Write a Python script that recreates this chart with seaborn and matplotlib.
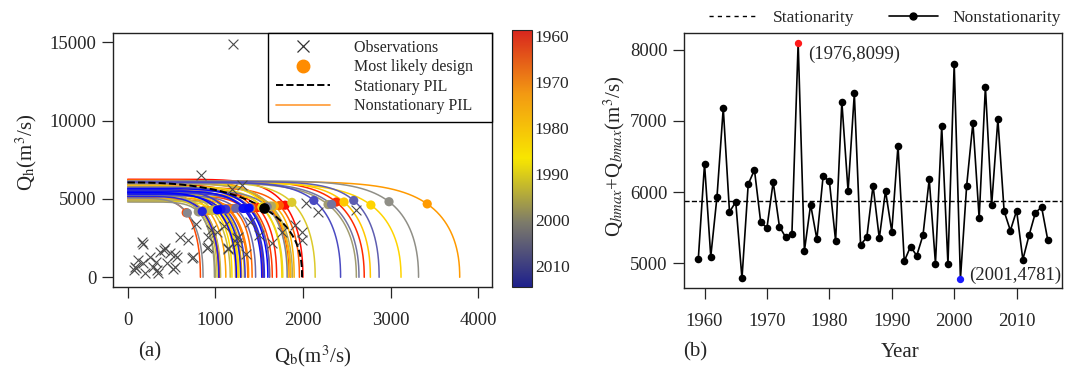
import numpy as np
import pandas as pd
import matplotlib.pyplot as plt
import matplotlib.cm as cm
from matplotlib.colors import LinearSegmentedColormap, Normalize
from matplotlib.lines import Line2D
import seaborn as sns

sns.set_style("ticks")
plt.rcParams["font.family"] = ["Liberation Serif", "DejaVu Serif"]
plt.rcParams["mathtext.fontset"] = "stix"

# ---- data ----
years = list(range(1959, 2016))

# panel (b): Qhmax + Qbmax of the most likely design, per year
total = [5056, 6397, 5093, 5937, 7180, 5721, 5862, 4788, 6111, 6312,
         5577, 5496, 6143, 5515, 5366, 5412, 8099, 5173, 5824, 5337,
         6223, 6157, 5314, 7269, 6012, 7386, 5257, 5366, 6092, 5351,
         6017, 5445, 6654, 5028, 5234, 5107, 5394, 6181, 4995, 6927,
         4986, 7803, 4781, 6092, 6977, 5633, 7480, 5816, 7025, 5731,
         5459, 5740, 5051, 5394, 5707, 5792, 5323]
stationary_total = 5876
max_year, max_label = 1975, "(1976,8099)"
min_year, min_label = 2001, "(2001,4781)"

# panel (a): most likely design point per year
design_qb = [856, 1797, 863, 1487, 2380, 1321, 1432, 668, 1611, 1732,
             1197, 1146, 1623, 1155, 1046, 1082, 3419, 923, 1404, 1027,
             1673, 1627, 1014, 2469, 1532, 2776, 977, 1046, 1592, 1041,
             1537, 1105, 1874, 828, 964, 867, 1064, 1641, 815, 2287,
             806, 2983, 681, 1592, 2327, 1233, 2580, 1396, 2125, 1331,
             1119, 1340, 851, 1064, 1317, 1382, 1023]
design_qh = [4200, 4600, 4230, 4450, 4800, 4400, 4430, 4120, 4500, 4580,
             4380, 4350, 4520, 4360, 4320, 4330, 4680, 4250, 4420, 4310,
             4550, 4530, 4300, 4800, 4480, 4610, 4280, 4320, 4500, 4310,
             4480, 4340, 4780, 4200, 4270, 4240, 4330, 4540, 4180, 4640,
             4180, 4820, 4100, 4500, 4650, 4400, 4900, 4420, 4900, 4400,
             4340, 4400, 4200, 4330, 4390, 4410, 4300]

# panel (a): asymptotes of each nonstationary PIL (Qb at Qh=0, Qh at Qb=0)
pil_qb = [1040, 2000, 1050, 1700, 2700, 1540, 1650, 830, 1840, 1960,
          1420, 1370, 1860, 1380, 1260, 1300, 3790, 1120, 1620, 1240,
          1900, 1860, 1230, 2770, 1760, 3120, 1190, 1270, 1830, 1260,
          1770, 1330, 2140, 1020, 1170, 1060, 1290, 1880, 1000, 2610,
          990, 3320, 860, 1820, 2640, 1460, 2870, 1620, 2430, 1550,
          1340, 1560, 1040, 1290, 1530, 1600, 1240]
pil_qh = [5400, 6250, 5000, 5600, 6150, 5200, 5900, 5100, 6000, 5700,
          4900, 5500, 6200, 5300, 5800, 5050, 6100, 5600, 5400, 5900,
          5150, 6100, 5350, 6100, 5650, 6000, 4850, 5500, 6100, 5250,
          5800, 5450, 6050, 5000, 5700, 5300, 4900, 5950, 5550, 6000,
          4800, 6150, 5050, 5500, 6050, 5200, 6100, 5750, 6050, 5350,
          5600, 5450, 5150, 5300, 5500, 5650, 5400]

# stationary PIL
stat_qb, stat_qh = 1990, 6050
stat_design = (1559, 4393)

# observed pairs
obs_qb = [1200, 840, 160, 175, 100, 70, 85, 120, 180, 250, 290, 330, 350, 370,
          425, 410, 480, 540, 540, 565, 520, 690, 730, 750, 900, 920, 920, 1020,
          1150, 1140, 1260, 1250, 1190, 1300, 1245, 1760, 1910, 1985, 1985, 2040,
          2175, 2610, 1400, 1500, 1100, 950, 600, 200, 320, 450, 780, 1350, 1650]
obs_qh = [14900, 6500, 2240, 2100, 570, 480, 660, 1100, 890, 1310, 680, 470, 300, 1630,
          1850, 1740, 1530, 1420, 680, 1270, 560, 2380, 1210, 1280, 1850, 1950, 2590, 2900,
          1850, 1780, 2590, 2200, 5660, 5880, 2480, 2900, 3330, 2900, 2380, 4710,
          4180, 4290, 3500, 2700, 3300, 3000, 2600, 300, 1000, 900, 3400, 1500, 2200]

line_cmap = LinearSegmentedColormap.from_list(
    "pil", ["#ff0000", "#ff8c00", "#ffe600", "#8c8c8c", "#0000ff"])
bar_cmap = LinearSegmentedColormap.from_list(
    "bar", ["#d8261e", "#f39a12", "#f8e600", "#7c7a6a", "#1e208c"])
norm = Normalize(1958.7, 2014.6)


def isoline(a, h, xd, yd, p=2.2):
    # (x/a)^q + (y/h)^p = 1, q chosen so the curve runs through the design point
    q = np.log(1 - (yd / h) ** p) / np.log(xd / a)
    t = np.linspace(0, np.pi / 2, 300)
    return a * np.sin(t) ** (2 / q), h * np.cos(t) ** (2 / p)


rows = []
for yr, a, h, xd, yd in zip(years, pil_qb, pil_qh, design_qb, design_qh):
    x, y = isoline(a, h, xd, yd)
    rows.append(pd.DataFrame({"year": yr, "qb": x, "qh": y}))
curves = pd.concat(rows, ignore_index=True)
sx, sy = isoline(stat_qb, stat_qh, stat_design[0], stat_design[1], p=2.5)

fig = plt.figure(figsize=(10.69, 3.73), dpi=100)
ax1 = fig.add_axes([0.1057, 0.2314, 0.3545, 0.6809])
cax = fig.add_axes([0.479, 0.2306, 0.0187, 0.689])
ax2 = fig.add_axes([0.6399, 0.2271, 0.3536, 0.6836])

# ---- panel (a) ----
sns.lineplot(data=curves, x="qb", y="qh", hue="year", units="year", estimator=None,
             sort=False, palette=line_cmap, hue_norm=norm, lw=1.1, legend=False, ax=ax1)
ax1.plot(sx, sy, color="black", ls="--", lw=1.4, zorder=3)
sns.scatterplot(x=obs_qb, y=obs_qh, marker="x", color="#4a4a4a", s=50, linewidth=0.8,
                legend=False, ax=ax1, zorder=4)
sns.scatterplot(x=design_qb, y=design_qh, hue=years, palette=line_cmap, hue_norm=norm,
                s=44, linewidth=0, legend=False, ax=ax1, zorder=5)
ax1.scatter([stat_design[0]], [stat_design[1]], s=44, color="black", zorder=6)

ax1.set_xlim(-168, 4158)
ax1.set_ylim(-600, 15600)
ax1.set_xticks([0, 1000, 2000, 3000, 4000])
ax1.set_yticks([0, 5000, 10000, 15000])
ax1.set_xlabel("")
ax1.set_ylabel("")

handles = [
    Line2D([], [], ls="none", marker="x", color="#333333", ms=8, mew=0.9),
    Line2D([], [], ls="none", marker="o", color="#ff8c00", ms=9),
    Line2D([], [], ls="--", color="black", lw=1.4),
    Line2D([], [], ls="-", color="#ff9933", lw=1.2),
]
labels = ["Observations   ", "Most likely design   ", "Stationary PIL   ",
          "Nonstationary PIL   "]
leg = ax1.legend(handles, labels, loc="upper right", bbox_to_anchor=(1, 1),
                 borderaxespad=0, frameon=True, fancybox=False, framealpha=1,
                 edgecolor="black", fontsize=11.5, handlelength=3.4,
                 handletextpad=1.5, labelspacing=0.22, borderpad=0.45)
leg.get_frame().set_linewidth(1.0)

# colorbar
cb = fig.colorbar(cm.ScalarMappable(norm=norm, cmap=bar_cmap), cax=cax)
cax.invert_yaxis()
cb.set_ticks([1960, 1970, 1980, 1990, 2000, 2010])
cax.tick_params(direction="in", length=4, width=0.8, left=True, right=True,
                labelsize=12.5, pad=2, color="#444444")
cb.outline.set_linewidth(0.8)

# ---- panel (b) ----
sns.lineplot(x=years, y=total, color="black", lw=1.2, ax=ax2)
ax2.axhline(stationary_total, color="black", ls="--", lw=1.0)
i_max = years.index(max_year)
i_min = years.index(min_year)
keep = [i for i in range(len(years)) if i not in (i_max, i_min)]
sns.scatterplot(x=[years[i] for i in keep], y=[total[i] for i in keep],
                color="black", s=30, linewidth=0, ax=ax2, zorder=3)
ax2.scatter([years[i_max]], [total[i_max]], color="#ff1a1a", s=18, zorder=4)
ax2.scatter([years[i_min]], [total[i_min]], color="#1a1aff", s=18, zorder=4)
ax2.text(1976.6, 7930, max_label, fontsize=13.5, va="center", ha="left")
ax2.text(2002.4, 4835, min_label, fontsize=13.5, va="center", ha="left")

ax2.set_xlim(1956.72, 2017.28)
ax2.set_ylim(4648, 8232)
ax2.set_xticks([1960, 1970, 1980, 1990, 2000, 2010])
ax2.set_yticks([5000, 6000, 7000, 8000])
ax2.set_xlabel("")
ax2.set_ylabel("")

leg2 = ax2.legend(
    [Line2D([], [], ls=(0, (3, 3)), color="black", lw=1.0),
     Line2D([], [], ls="-", color="black", lw=1.2, marker="o", ms=5)],
    ["Stationarity", "Nonstationarity"], loc="center", bbox_to_anchor=(0.532, 1.06),
    ncol=2, frameon=False, fontsize=12.5, handlelength=2.8, handletextpad=0.85,
    columnspacing=2.0, borderaxespad=0)

for ax in (ax1, ax2):
    for s in ax.spines.values():
        s.set_visible(True)
        s.set_linewidth(1.0)
        s.set_color("#222222")
    ax.tick_params(axis="both", direction="out", length=8, width=0.9, labelsize=13.5)
    ax.tick_params(axis="x", pad=10)
    ax.tick_params(axis="y", pad=4)

fig.text(0.025, 0.592, r"Q$_\mathrm{h}$(m$^3$/s)", rotation=90, fontsize=15,
         ha="center", va="center")
fig.text(0.292, 0.045, r"Q$_\mathrm{b}$(m$^3$/s)", fontsize=15, ha="center", va="center")
fig.text(0.575, 0.58, r"Q$_{hmax}$+Q$_{bmax}$(m$^3$/s)", rotation=90, fontsize=15,
         ha="center", va="center")
fig.text(0.842, 0.056, "Year", fontsize=15, ha="center", va="center")
fig.text(0.140, 0.056, "(a)", fontsize=15, ha="center", va="center")
fig.text(0.650, 0.056, "(b)", fontsize=15, ha="center", va="center")

fig.savefig("out.png", dpi=100)
